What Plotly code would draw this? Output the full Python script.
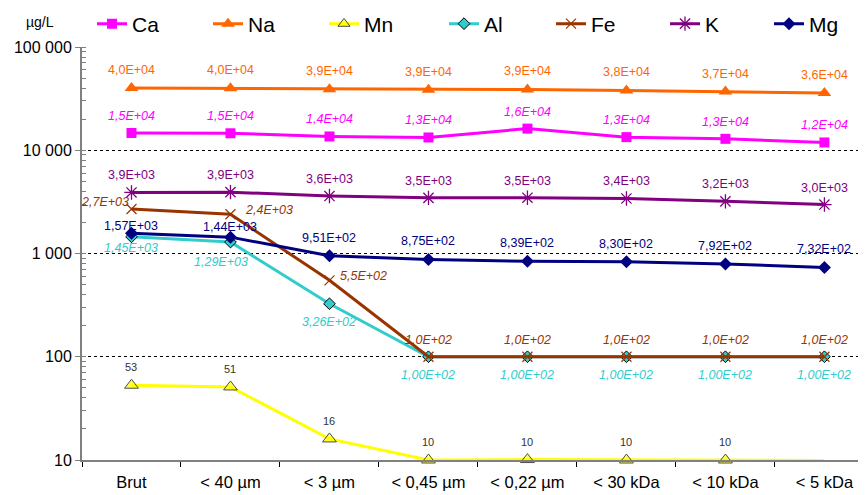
import math
import plotly.graph_objects as go

categories = ["Brut", "< 40 µm", "< 3 µm", "< 0,45 µm", "< 0,22 µm", "< 30 kDa", "< 10 kDa", "< 5 kDa"]
ca = [14700, 14600, 13600, 13300, 16200, 13400, 12900, 11900]
na = [40100, 39800, 39000, 38600, 38800, 38000, 37000, 35800]
mn = [53, 51, 16, 10, 10.1, 10, 10, 9.9]
al = [1450, 1290, 326, 100, 100, 100, 100, 100]
fe = [2700, 2400, 550, 100, 100, 100, 100, 100]
k = [3900, 3930, 3600, 3460, 3470, 3410, 3200, 2980]
mg = [1570, 1440, 951, 875, 839, 830, 792, 732]

y_tickvals = [10, 100, 1000, 10000, 100000]
y_ticktext = ["10", "100", "1 000", "10 000", "100 000"]

FONT = "Liberation Sans, Arial, sans-serif"

# The page body has an 8px margin; lay the figure out in page pixels.
OFF = 8
W, H = 866 - OFF, 495 - OFF
PLOT_L, PLOT_R, PLOT_T, PLOT_B = 82, 866, 47, 460   # page pixels
ML, MR, MT, MB = PLOT_L - OFF, 866 - PLOT_R, PLOT_T - OFF, 495 - PLOT_B
PW, PH = PLOT_R - PLOT_L, PLOT_B - PLOT_T


def sci(v, d):
    return f"{v:.{d}E}".replace(".", ",")


def intfmt(v, d):
    return f"{v:.0f}"


series = [
    dict(name="Ca", y=ca, color="#FF00FF",
         marker=dict(symbol="square", size=10, color="#FF00FF"),
         fmt=sci, d=1, italic=True, size=12.5, tcolor="#FF00FF",
         shifts=[(17, 0, "center")] * 8),
    dict(name="Na", y=na, color="#FF6600",
         marker=dict(symbol="triangle-up", size=12, color="#FF6600"),
         fmt=sci, d=1, italic=False, size=12.5, tcolor="#FF6600",
         shifts=[(18, 0, "center")] * 8),
    dict(name="Mn", y=mn, color="#FFFF00",
         marker=dict(symbol="triangle-up", size=[12] * 7 + [0], color="#FFFF00",
                     line=dict(color="black", width=1)),
         fmt=intfmt, d=0, italic=False, size=11, tcolor="#333333",
         shifts=[(18, 0, "center")] * 8),
    dict(name="Al", y=al, color="#33CCCC",
         marker=dict(symbol="diamond", size=9, color="#33CCCC",
                     line=dict(color="black", width=1)),
         fmt=sci, d=2, italic=True, size=12.5, tcolor="#33CCCC",
         shifts=[(-11, 0, "center"), (-20, -9, "center")] + [(-18, 0, "center")] * 6),
    dict(name="Fe", y=fe, color="#993300",
         marker=dict(symbol="x-thin", size=10, color="#993300",
                     line=dict(color="#993300", width=1.2)),
         fmt=sci, d=1, italic=True, size=12.5, tcolor="#993300",
         shifts=[(7, 0, "right"), (4, 13, "left"), (4, 9, "left")] + [(17, 0, "center")] * 5),
    dict(name="K", y=k, color="#800080",
         marker=dict(symbol="asterisk", size=12, color="#800080",
                     line=dict(color="#800080", width=1.3)),
         fmt=sci, d=1, italic=False, size=12.5, tcolor="#800080",
         shifts=[(17, 0, "center")] * 8),
    dict(name="Mg", y=mg, color="#000080",
         marker=dict(symbol="diamond", size=10, color="#000080"),
         fmt=sci, d=2, italic=False, size=12.5, tcolor="#000080",
         shifts=[(7, 0, "center"), (10, 0, "center")] + [(18, 0, "center")] * 6),
]

legend_line_x = [106, 222, 338, 458, 565, 679, 783]   # page pixels
LEGEND_Y = 24

fig = go.Figure()
annotations = []
legends = {}
for i, s in enumerate(series):
    lname = "legend" if i == 0 else f"legend{i + 1}"
    fig.add_trace(go.Scatter(
        x=categories, y=s["y"], name=s["name"], mode="lines+markers",
        line=dict(color=s["color"], width=3), marker=s["marker"],
        cliponaxis=False, legend=lname))
    legends[lname] = dict(
        orientation="h", x=(legend_line_x[i] - 14 - PLOT_L) / PW,
        y=1 + (PLOT_T - LEGEND_Y) / PH,
        xanchor="left", yanchor="middle", font=dict(size=21, family=FONT),
        bgcolor="rgba(0,0,0,0)", borderwidth=0)
    for j, v in enumerate(s["y"]):
        txt = s["fmt"](v, s["d"])
        if s["italic"]:
            txt = f"<i>{txt}</i>"
        ys, xs, xa = s["shifts"][j]
        annotations.append(dict(
            x=categories[j], y=math.log10(v), xref="x", yref="y", text=txt,
            showarrow=False, xanchor=xa, yanchor="middle", yshift=ys, xshift=xs,
            font=dict(size=s["size"], color=s["tcolor"], family=FONT)))

annotations.append(dict(text="µg/L", x=(40 - PLOT_L) / PW, y=1 + (PLOT_T - 22) / PH,
                        xref="paper", yref="paper", showarrow=False,
                        xanchor="center", yanchor="middle",
                        font=dict(size=14, family=FONT, color="black")))

fig.update_layout(
    template="none",
    width=W, height=H,
    margin=dict(l=ML, r=MR, t=MT, b=MB, autoexpand=False),
    paper_bgcolor="white", plot_bgcolor="white",
    font=dict(family=FONT, color="black"),
    showlegend=True,
    annotations=annotations,
    **legends,
)

fig.update_xaxes(
    type="category", range=[-0.5, 7.42], automargin=False,
    showline=True, linecolor="#808080", linewidth=2,
    ticks="outside", ticklen=5, tickcolor="black", tickwidth=1, tickson="boundaries",
    showgrid=False, zeroline=False, tickfont=dict(size=16.5, family=FONT),
    ticklabelstandoff=6,
)
fig.update_yaxes(
    type="log", range=[1, 5], automargin=False,
    tickvals=y_tickvals, ticktext=y_ticktext,
    showline=True, linecolor="#808080", linewidth=2,
    ticks="outside", ticklen=5, tickcolor="#808080", tickwidth=1,
    showgrid=True, gridcolor="black", griddash="3px,3px", gridwidth=1,
    tickfont=dict(size=16, family=FONT),
    minor=dict(ticks="inside", ticklen=4, tickcolor="#808080", showgrid=False, dtick="D1"),
    zeroline=False,
)

fig.write_html("out.html")
